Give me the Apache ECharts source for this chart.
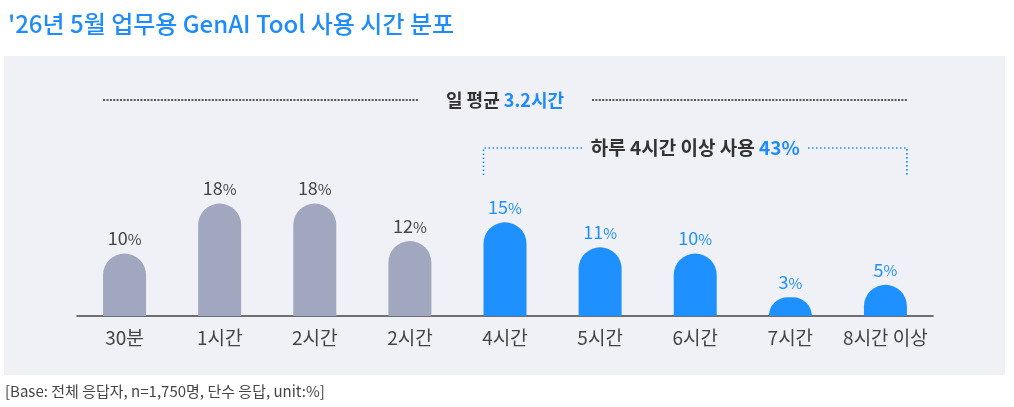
<!DOCTYPE html>
<html><head><meta charset="utf-8">
<script src="https://cdn.jsdelivr.net/npm/echarts@6/dist/echarts.min.js"></script>
<style>html,body{margin:0;padding:0;background:#fff}#c{width:1014px;height:407px}</style>
</head><body><div id="c"></div>
<script>
const categories = ['30분','1시간','2시간','2시간','4시간','5시간','6시간','7시간','8시간 이상'];
const values = [10,18,18,12,15,11,10,3,5];
const highlighted = [false,false,false,false,true,true,true,true,true];
const titleText = "'26년 5월 업무용 GenAI Tool 사용 시간 분포";
const avgLabel = ['일 평균 ', '3.2시간'];
const bracketLabel = ['하루 4시간 이상 사용 ', '43%'];
const footText = '[Base: 전체 응답자, n=1,750명, 단수 응답, unit:%]';

const FONT = '"Noto Sans CJK KR","Noto Sans",sans-serif';
const GRAY = '#A0A7BF', BLUE = '#1E90FF', DARK = '#444';

const chart = echarts.init(document.getElementById('c'), null, {renderer:'canvas'});
const option = {
  backgroundColor: '#fff',
  animation: false,
  textStyle: {fontFamily: FONT},
  title: {text: titleText, left: 3, top: 7,
    textStyle: {color: '#1E8CFF', fontSize: 24, fontWeight: 500, fontFamily: FONT}},
  grid: {left: 77, right: 81, top: 191, bottom: 91},
  xAxis: {type: 'category', data: categories,
    axisLine: {lineStyle: {color: '#444', width: 1.5}},
    axisTick: {show: false},
    axisLabel: {color: DARK, fontSize: 19, margin: 12, interval: 0, fontFamily: FONT}},
  yAxis: {type: 'value', min: 0, max: 20, show: false, splitLine: {show: false}},
  series: [{
    type: 'bar', barWidth: 43, z: 3,
    data: values.map((v, i) => ({value: v,
      itemStyle: {color: highlighted[i] ? BLUE : GRAY, borderRadius: [22,22,0,0]},
      label: {color: highlighted[i] ? BLUE : DARK,
        rich: {n: {fontSize: 18, color: highlighted[i] ? BLUE : DARK, fontFamily: FONT},
               p: {fontSize: 15, color: highlighted[i] ? BLUE : DARK, fontFamily: FONT, padding: [2,0,0,0]}}}
    })),
    label: {show: true, position: 'top', distance: 6,
      formatter: p => '{n|' + p.value + '}{p|%}'}
  }]
};
chart.setOption(option);

function px(i, v) { return chart.convertToPixel({gridIndex: 0}, [i, v]); }
const n = categories.length;
const half = 21.5;
const firstL = px(0, 0)[0] - half;
const lastR = px(n - 1, 0)[0] + half;
const firstHi = highlighted.indexOf(true);
const hiL = px(firstHi, 0)[0] - half;
const midX = (px(0,0)[0] + px(n-1,0)[0]) / 2;
const avgY = 100, brY = 148, brBottom = 175;
const hiMid = (hiL + lastR) / 2;

chart.setOption({graphic: [
  {type: 'rect', z: -10, shape: {x: 4, y: 56, width: 1001, height: 319}, style: {fill: '#F0F1F6'}},
  {type: 'line', shape: {x1: firstL, y1: avgY, x2: 419, y2: avgY},
    style: {stroke: '#555', lineWidth: 2, lineDash: [2, 1.4]}},
  {type: 'line', shape: {x1: 592, y1: avgY, x2: lastR, y2: avgY},
    style: {stroke: '#555', lineWidth: 2, lineDash: [2, 1.4]}},
  {type: 'text', x: midX, y: avgY, style: {
    text: '{a|' + avgLabel[0] + '}{b|' + avgLabel[1] + '}', align: 'center', verticalAlign: 'middle',
    rich: {a: {fontSize: 18, fontWeight: 'bold', fill: '#333', fontFamily: FONT},
           b: {fontSize: 18, fontWeight: 'bold', fill: '#1E8CFF', fontFamily: FONT}}}},
  {type: 'polyline', shape: {points: [[hiL, brBottom], [hiL, brY], [582, brY]]},
    style: {stroke: BLUE, lineWidth: 1.6, lineDash: [1.6, 2.4], fill: null}},
  {type: 'polyline', shape: {points: [[808, brY], [lastR, brY], [lastR, brBottom]]},
    style: {stroke: BLUE, lineWidth: 1.6, lineDash: [1.6, 2.4], fill: null}},
  {type: 'text', x: hiMid, y: brY, style: {
    text: '{a|' + bracketLabel[0] + '}{b|' + bracketLabel[1] + '}', align: 'center', verticalAlign: 'middle',
    rich: {a: {fontSize: 19, fontWeight: 'bold', fill: '#333', fontFamily: FONT},
           b: {fontSize: 19, fontWeight: 'bold', fill: '#1E8CFF', fontFamily: FONT}}}},
  {type: 'text', x: 5, y: 391, style: {text: footText, fontSize: 15, fill: DARK,
    fontFamily: FONT, verticalAlign: 'middle'}}
]});
</script></body></html>
